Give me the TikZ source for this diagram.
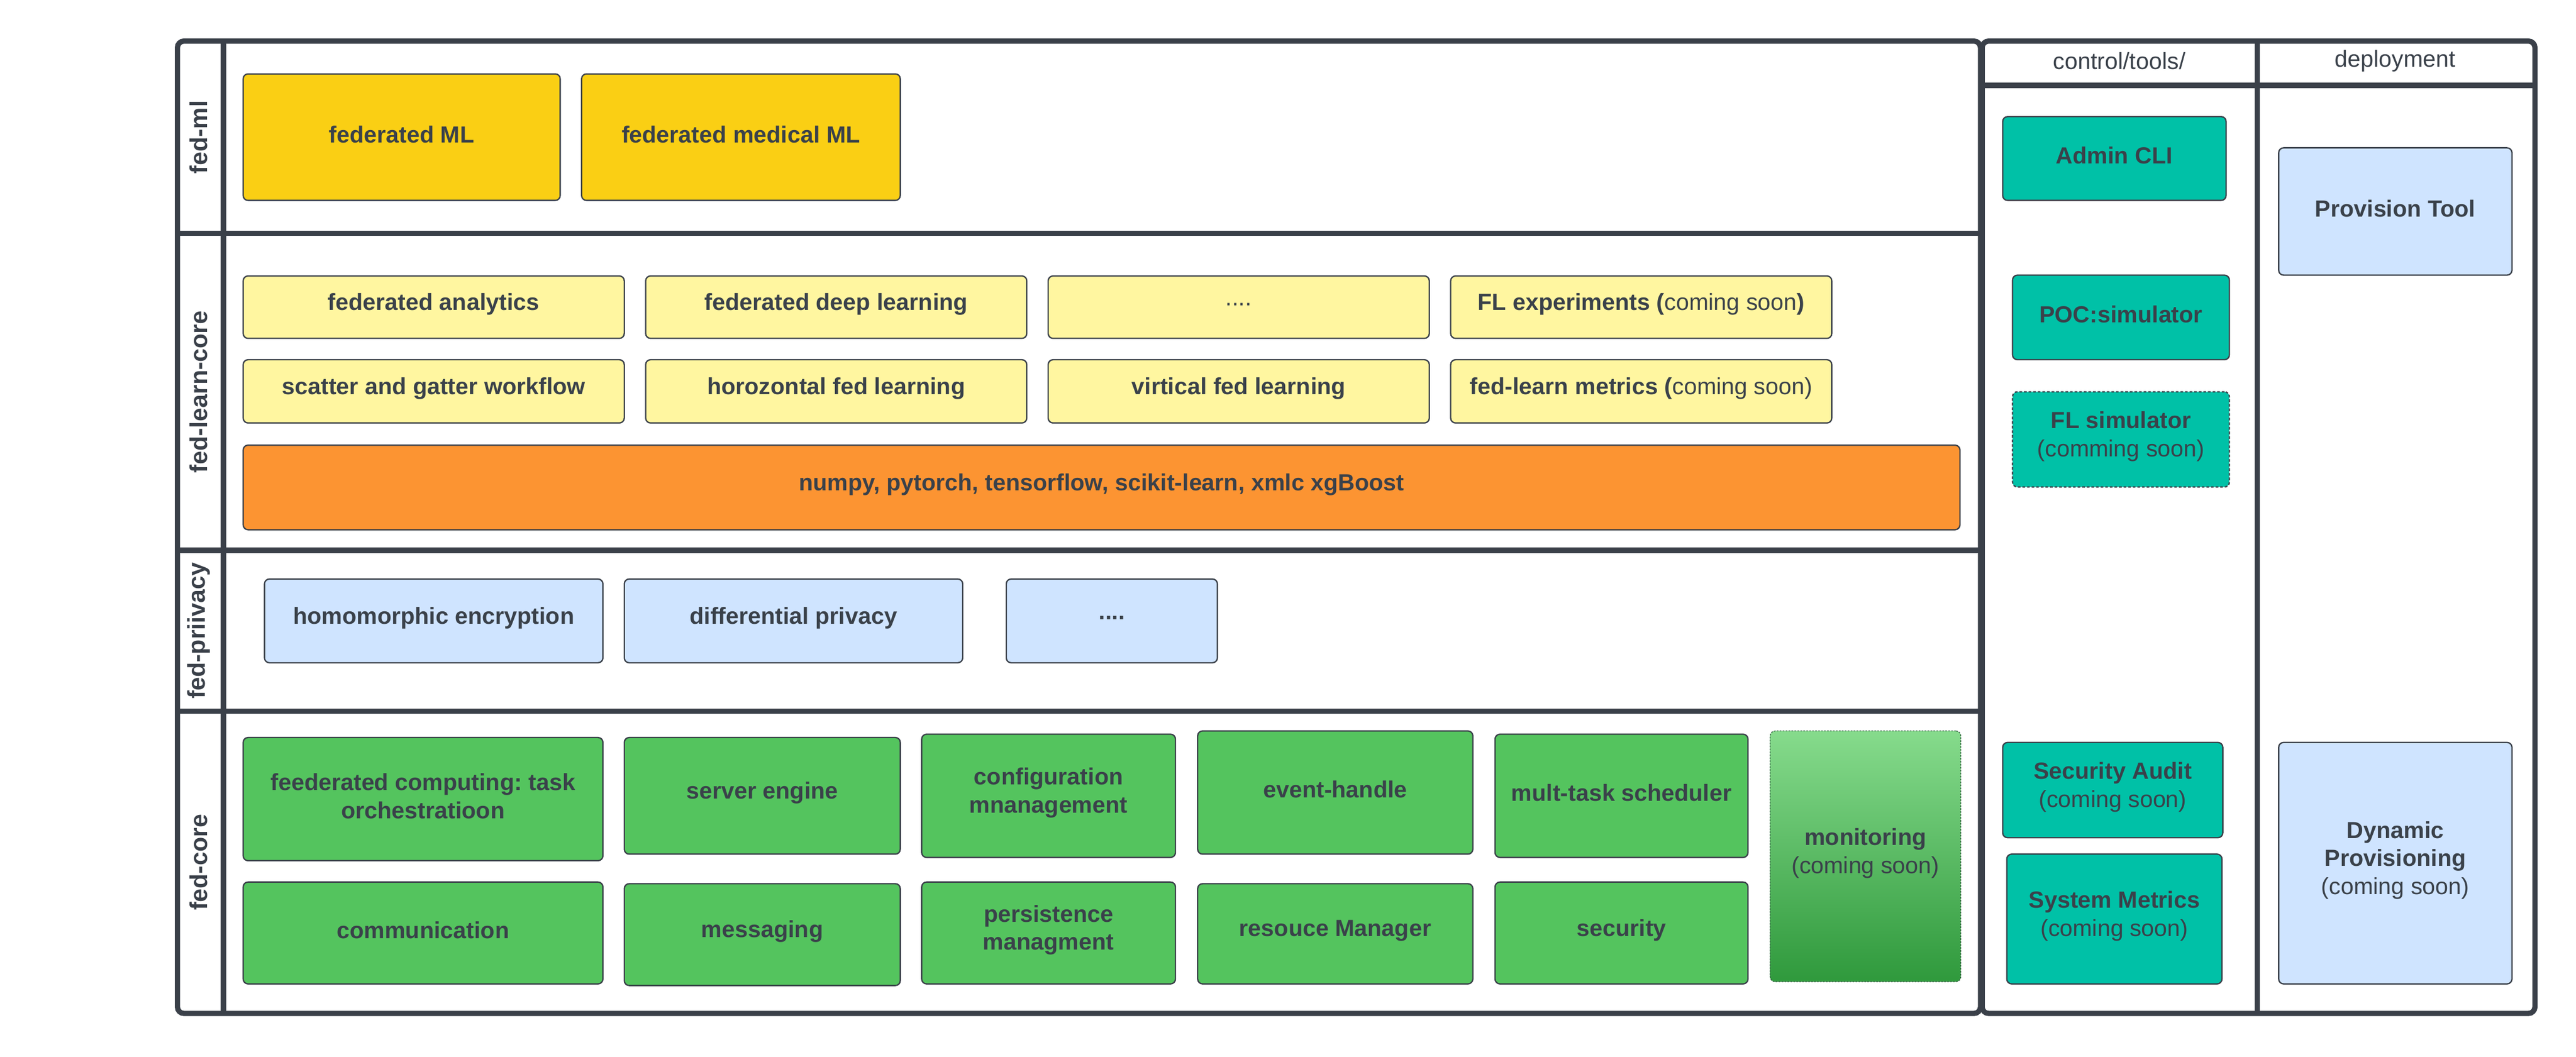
\documentclass[tikz,border=0pt]{standalone}
\usepackage{fontspec}
\setmainfont{Liberation Sans}
\frenchspacing
\definecolor{frm}{HTML}{3A4049}
\definecolor{txt}{HTML}{3A414A}
\definecolor{ylw}{HTML}{FACF14}
\definecolor{lylw}{HTML}{FFF6A0}
\definecolor{orng}{HTML}{FC9432}
\definecolor{lblue}{HTML}{CFE4FF}
\definecolor{grn}{HTML}{54C45E}
\definecolor{teal2}{HTML}{00C1A7}
\definecolor{gtop}{HTML}{86DB8C}
\definecolor{gbot}{HTML}{2F993C}
\newcommand\mybox[7]{%
  \node[#6, minimum width={(#4-#2)*1pt}, minimum height={(#5-#3)*1pt}] (#1) at ({(#2+#4)/2},{(#3+#5)/2}) {};
  \node[boxtext] (#1t) at ([yshift=1.8pt]#1.center) {#7};}
\tikzset{
  frame/.style={draw=frm, line width=3.2pt, rounded corners=4pt},
  sep/.style={draw=frm, line width=3.2pt},
  box/.style={draw=frm, line width=0.8pt, rounded corners=3pt, inner sep=0pt, outer sep=0pt},
  boxtext/.style={inner sep=0pt, align=center, text=txt, font=\fontsize{14.2}{17}\selectfont\bfseries},
  lane/.style={rotate=90, text=frm, font=\fontsize{14.8}{17}\selectfont\bfseries},
  head/.style={text=txt, font=\fontsize{14.2}{17}\selectfont},
}
\begin{document}
\begin{tikzpicture}[x=1pt,y=-1pt]
\useasboundingbox[fill=white] (0,0) rectangle (1568,643.2);
% frames
\draw[frame] (108,25) rectangle (1205.5,617);
\draw[frame] (1206.5,25) rectangle (1543,617);
\draw[sep] (136,25) -- (136,617);
\draw[sep] (108,142) -- (1205.5,142);
\draw[sep] (108,335) -- (1205.5,335);
\draw[sep] (108,433) -- (1205.5,433);
\draw[sep] (1206.5,52) -- (1543,52);
\draw[sep] (1374,25) -- (1374,617);
% lane labels
\node[lane] (lml) at (121,83.5) {fed-ml};
\node[lane] (llc) at (121,238.5) {fed-learn-core};
\node[lane] (lpr) at (121,384) {fed-priivacy};
\node[lane] (lco) at (121,525) {fed-core};
\node[head] (hct) at (1290,37) {control/tools/};
\node[head] (hdp) at (1458,37) {deployment};
% fed-ml
\mybox{fml1}{148}{45}{341}{122}{box,fill=ylw}{federated ML}
\mybox{fml2}{354}{45}{548}{122}{box,fill=ylw}{federated medical ML}
% fed-learn-core
\mybox{a1}{148}{168}{380}{206}{box,fill=lylw}{federated analytics}
\mybox{a2}{393}{168}{625}{206}{box,fill=lylw}{federated deep learning}
\mybox{a3}{638}{168}{870}{206}{box,fill=lylw}{\mdseries ....}
\mybox{a4}{883}{168}{1115}{206}{box,fill=lylw}{FL experiments (\mdseries coming soon\bfseries)}
\mybox{b1}{148}{219}{380}{257.5}{box,fill=lylw}{scatter and gatter workflow}
\mybox{b2}{393}{219}{625}{257.5}{box,fill=lylw}{horozontal fed learning}
\mybox{b3}{638}{219}{870}{257.5}{box,fill=lylw}{virtical fed learning}
\mybox{b4}{883}{219}{1115}{257.5}{box,fill=lylw}{fed-learn metrics (\mdseries coming soon)}
\mybox{lib}{148}{271}{1193}{322.5}{box,fill=orng}{numpy, pytorch, tensorflow, scikit-learn, xmlc xgBoost}
% fed-privacy
\mybox{p1}{161}{352.5}{367}{403.5}{box,fill=lblue}{homomorphic encryption}
\mybox{p2}{380}{352.5}{586}{403.5}{box,fill=lblue}{differential privacy}
\mybox{p3}{612.5}{352.5}{741}{403.5}{box,fill=lblue}{....}
% fed-core
\mybox{c1}{148}{449}{367}{524}{box,fill=grn}{feederated computing: task\\orchestratioon}
\mybox{c2}{380}{449}{548}{520}{box,fill=grn}{server engine}
\mybox{c3}{561}{447}{715.5}{522}{box,fill=grn}{configuration\\mnanagement}
\mybox{c4}{729}{445}{896.5}{520}{box,fill=grn}{event-handle}
\mybox{c5}{910}{447}{1064}{522}{box,fill=grn}{mult-task scheduler}
\mybox{d1}{148}{537}{367}{599}{box,fill=grn}{communication}
\mybox{d2}{380}{538}{548}{600}{box,fill=grn}{messaging}
\mybox{d3}{561}{537}{715.5}{599}{box,fill=grn}{persistence\\managment}
\mybox{d4}{729}{538}{896.5}{599}{box,fill=grn}{resouce Manager}
\mybox{d5}{910}{537}{1064}{599}{box,fill=grn}{security}
\mybox{mon}{1077.5}{445}{1193.5}{597.7}{box,top color=gtop,bottom color=gbot,draw=frm!60!gbot,line width=0.5pt,dash pattern=on 1pt off 0.8pt}{monitoring\\\mdseries(coming soon)}
% control/tools
\mybox{t1}{1219}{71}{1355}{122}{box,fill=teal2}{Admin CLI}
\mybox{t2}{1225}{167.5}{1357}{219}{box,fill=teal2}{POC:simulator}
\mybox{t3}{1225}{238.5}{1357}{296.5}{box,fill=teal2,dash pattern=on 1.6pt off 1.2pt}{FL simulator\\\mdseries(comming soon)}
\mybox{t4}{1219}{452}{1353}{510}{box,fill=teal2}{Security Audit\\\mdseries(coming soon)}
\mybox{t5}{1221.5}{520}{1352.5}{599}{box,fill=teal2}{System Metrics\\\mdseries(coming soon)}
% deployment
\mybox{e1}{1387}{90}{1529}{167.5}{box,fill=lblue}{Provision Tool}
\mybox{e2}{1387}{452}{1529}{599}{box,fill=lblue}{Dynamic\\Provisioning\\\mdseries(coming soon)}
\end{tikzpicture}
\end{document}
